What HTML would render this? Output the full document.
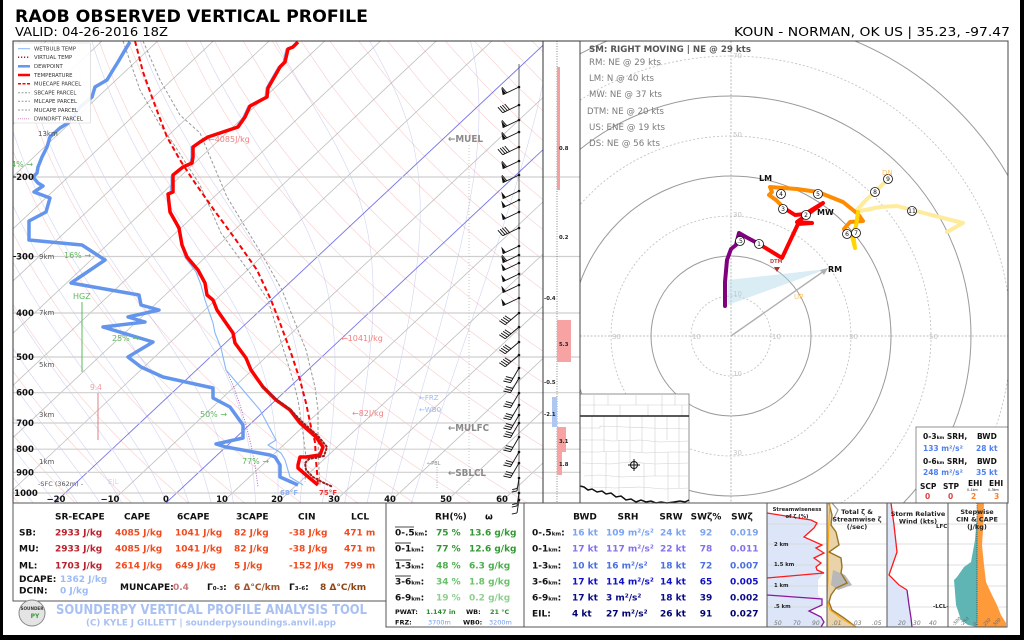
<!DOCTYPE html>
<html><head><meta charset="utf-8"><style>
html,body{margin:0;padding:0;background:#fff;}
svg{display:block;font-family:"DejaVu Sans","Liberation Sans",sans-serif;}
.b{font-weight:bold;}
</style></head><body>
<svg id="s" xmlns="http://www.w3.org/2000/svg" width="1024" height="640" viewBox="0 0 1024 640">
<defs>
<clipPath id="skc"><rect x="13" y="41" width="530" height="462"/></clipPath>
<clipPath id="hoc"><rect x="580" y="41" width="428" height="462"/></clipPath>
</defs>
<rect x="0" y="0" width="1024" height="640" fill="#fff"/>

<!-- header -->
<text x="15" y="22" class="b" font-size="17" fill="#000" textLength="353" lengthAdjust="spacingAndGlyphs">RAOB OBSERVED VERTICAL PROFILE</text>
<text x="15" y="36" font-size="12.5" fill="#000" textLength="153" lengthAdjust="spacingAndGlyphs">VALID: 04-26-2016 18Z</text>
<text x="734" y="36" font-size="12.5" fill="#000" textLength="276" lengthAdjust="spacingAndGlyphs">KOUN - NORMAN, OK US | 35.23, -97.47</text>

<!-- ================= SKEW-T ================= -->
<g clip-path="url(#skc)">
<g id="bgl"></g>
</g>
<!-- isobars -->
<g stroke="#cfcfcf" stroke-width="1.2">
<line x1="13" y1="177" x2="580" y2="177"/>
<line x1="13" y1="256.5" x2="580" y2="256.5"/>
<line x1="13" y1="313" x2="580" y2="313"/>
<line x1="13" y1="357" x2="580" y2="357"/>
<line x1="13" y1="392.7" x2="580" y2="392.7"/>
<line x1="13" y1="423" x2="580" y2="423"/>
<line x1="13" y1="449.2" x2="580" y2="449.2"/>
<line x1="13" y1="472.3" x2="580" y2="472.3"/>
<line x1="13" y1="493" x2="580" y2="493"/>
</g>
<!-- dotted marker lines -->
<line x1="469" y1="145" x2="469" y2="485" stroke="#bbb" stroke-width="0.8" stroke-dasharray="1,2"/>
<line x1="437" y1="467" x2="437" y2="488" stroke="#999" stroke-width="0.8" stroke-dasharray="1,1.5"/>

<g clip-path="url(#skc)" fill="none" stroke-linejoin="round">
<!-- parcels -->
<polyline points="123,41 140,90 160,125 173,143 200,185 221,233 250,273 268,300 293,380 298,400 303,433 306,457 306,470 305,482" stroke="#9a9a9a" stroke-width="1" stroke-dasharray="3,2"/>
<polyline points="143,41 160,80 180,115 200,133 227,197 261,253 282,290 286,300 306,350 315,387 318,410 318,440 319,470 320,485" stroke="#9a9a9a" stroke-width="1" stroke-dasharray="3,2"/>
<polyline points="135,41 143,72 153,100 167,137 180,160 193,180 214,210 236,240 257,270 271,300 280,323 290,350 300,380 306,403 311,427 315,442 316,460 317,472 318,485" stroke="#ff0000" stroke-width="2" stroke-dasharray="5,3"/>
<!-- dcape -->
<polyline points="226,370 233,385 240,405 246,425 251,445 255,465 258,487" stroke="#b060c0" stroke-width="1" stroke-dasharray="1,1.5"/>
<!-- wetbulb -->
<polyline points="296,42 291,47 286,49 283,62 278,67 266,88 265,97 248,106 243,117 236,127 218,133 206,137 198,142 191,147 191,157 190,163 181,168 171,176 171,185 169,200 172,215 179,232 181,245 185,257 196,272 201,285 205,300 213,323 215,333 221,348 226,370 243,390 260,410 276,440 268,445 281,453 285,460 290,477 303,485" stroke="#86b6fa" stroke-width="1.1"/>
<!-- dewpoint -->
<polyline points="130,42 125,50 118,62 113,70 107,80 95,87 92,97 80,107 73,117 68,123 60,128 50,137 47,147 42,157 38,167 37,173 33,177 38,183 43,186 34,192 50,198 46,212 29,221 29,240 82,245 105,260 71,283 139,295 141,305 159,310 128,317 145,322 103,327 153,342 128,357 141,367 163,377 213,388 213,398 230,407 243,425 243,438 216,444 226,447 270,455 275,457 280,465 280,477 298,485" stroke="#6495ed" stroke-width="3.5"/>
<!-- temperature -->
<polyline points="298,42 293,47 288,49 285,62 280,67 268,88 267,97 250,106 245,117 238,127 220,133 208,137 200,142 193,147 193,157 192,163 183,167 173,175 173,192 168,194 170,212 179,228 182,245 187,257 198,270 205,283 207,295 213,300 217,310 226,323 233,333 235,343 246,358 251,370 263,387 276,400 290,410 300,423 316,437 323,447 320,455 306,457 300,457 298,465 298,468 306,475 318,485" stroke="#ff0000" stroke-width="3.5"/>
<!-- virtual temp -->
<polyline points="262,386 276,399 290,409 301,421 318,436 327,447 324,456 309,459 305,463 306,470 313,477 322,482 333,487" stroke="#9b2020" stroke-width="2" stroke-dasharray="1.5,2.3" stroke-linecap="round"/>
</g>

<!-- barb column -->
<line x1="519" y1="64" x2="519" y2="503" stroke="#444" stroke-width="0.8"/>
<g id="barbs"></g>

<!-- skew-T labels -->
<g font-size="7" fill="#555">
<text x="38" y="136">13km</text>
<text x="39" y="259">9km</text>
<text x="39" y="315">7km</text>
<text x="39" y="367">5km</text>
<text x="39" y="417">3km</text>
<text x="39" y="464">1km</text>
<text x="38" y="486" font-size="6.5">-SFC (362m) -</text>
</g>
<g font-size="8" fill="#5cb85c">
<text x="6" y="167">14% →</text>
<text x="64" y="258">16% →</text>
<text x="112" y="341">25% →</text>
<text x="200" y="417">50% →</text>
<text x="242" y="464">77% →</text>
<text x="73" y="299">HGZ</text>
</g>
<rect x="3" y="150" width="10" height="20" fill="#fff"/>
<line x1="82" y1="302" x2="82" y2="372" stroke="#5cb85c" stroke-width="1"/>
<text x="90" y="390" font-size="7.5" fill="#f0a0a0">9.4</text>
<line x1="98" y1="393" x2="98" y2="440" stroke="#e08080" stroke-width="1"/>
<text x="108" y="484" font-size="7" fill="#b8e0f4">E|L</text>
<text x="208" y="142" font-size="8" fill="#f08080">←4085J/kg</text>
<text x="341" y="341" font-size="8" fill="#f08080">←1041J/kg</text>
<text x="352" y="416" font-size="8" fill="#f08080">←82J/kg</text>
<text x="448" y="142" class="b" font-size="9.5" fill="#8a8a8a" textLength="35" lengthAdjust="spacingAndGlyphs">←MUEL</text>
<text x="448" y="431" class="b" font-size="9.5" fill="#8a8a8a" textLength="41" lengthAdjust="spacingAndGlyphs">←MULFC</text>
<text x="448" y="476" class="b" font-size="9.5" fill="#8a8a8a" textLength="38" lengthAdjust="spacingAndGlyphs">←SBLCL</text>
<text x="427" y="465" font-size="5" fill="#888">←PBL</text>
<text x="419" y="400" font-size="7" fill="#9ab8f4">←FRZ</text>
<text x="419" y="412" font-size="7" fill="#9ab8f4">←WB0</text>
<text x="280" y="495" class="b" font-size="7" fill="#8fb0f0">68°F</text>
<text x="319" y="495" class="b" font-size="7" fill="#ff3030">75°F</text>

<!-- pressure labels -->
<g class="b" font-size="8.5" fill="#111" text-anchor="middle">
<text x="25" y="180">200</text>
<text x="25" y="259.5">300</text>
<text x="25" y="316">400</text>
<text x="25" y="360">500</text>
<text x="25" y="395.7">600</text>
<text x="25" y="426">700</text>
<text x="25" y="452.2">800</text>
<text x="25" y="475.3">900</text>
<text x="26" y="496">1000</text>
</g>
<g stroke="#111" stroke-width="1"><line x1="13" y1="177" x2="16" y2="177"/><line x1="13" y1="256.5" x2="16" y2="256.5"/></g>
<!-- temperature labels -->
<g class="b" font-size="8.5" fill="#111" text-anchor="middle">
<text x="56" y="502">−20</text>
<text x="110" y="502">−10</text>
<text x="166" y="502">0</text>
<text x="222" y="502">10</text>
<text x="277" y="502">20</text>
<text x="334" y="502">30</text>
<text x="390" y="502">40</text>
<text x="446" y="502">50</text>
<text x="502" y="502">60</text>
</g>

<!-- legend -->
<rect x="13.5" y="43" width="77" height="80" fill="#fff" fill-opacity="0.9" stroke="#d0d0d0" stroke-width="0.6" rx="1"/>
<g stroke-width="1" fill="none">
<line x1="18" y1="48.7" x2="30" y2="48.7" stroke="#86b6fa"/>
<line x1="18" y1="57.3" x2="30" y2="57.3" stroke="#9b2020" stroke-width="1.5" stroke-dasharray="1.2,1.8"/>
<line x1="18" y1="66.3" x2="30" y2="66.3" stroke="#6495ed" stroke-width="2.5"/>
<line x1="18" y1="75" x2="30" y2="75" stroke="#ff0000" stroke-width="2.5"/>
<line x1="18" y1="83.7" x2="30" y2="83.7" stroke="#ff0000" stroke-width="1.5" stroke-dasharray="3,1.5"/>
<line x1="18" y1="92.7" x2="30" y2="92.7" stroke="#999" stroke-dasharray="2,1.5"/>
<line x1="18" y1="101.3" x2="30" y2="101.3" stroke="#999" stroke-dasharray="2,1.5"/>
<line x1="18" y1="110" x2="30" y2="110" stroke="#999" stroke-dasharray="2,1.5"/>
<line x1="18" y1="118.7" x2="30" y2="118.7" stroke="#d090c0" stroke-dasharray="1,1"/>
</g>
<g font-size="5.3" fill="#333">
<text x="34" y="50.6">WETBULB TEMP</text>
<text x="34" y="59.2">VIRTUAL TEMP</text>
<text x="34" y="68.2">DEWPOINT</text>
<text x="34" y="76.9">TEMPERATURE</text>
<text x="34" y="85.6">MUECAPE PARCEL</text>
<text x="34" y="94.6">SBCAPE PARCEL</text>
<text x="34" y="103.2">MLCAPE PARCEL</text>
<text x="34" y="111.9">MUCAPE PARCEL</text>
<text x="34" y="120.6">DWNDRFT PARCEL</text>
</g>

<!-- skew-T frame -->
<rect x="13" y="41" width="530" height="462" fill="none" stroke="#333" stroke-width="1"/>

<!-- side strip -->
<line x1="557" y1="41" x2="557" y2="503" stroke="#555" stroke-width="0.7" stroke-dasharray="1,1.5"/>
<rect x="557" y="67" width="3" height="123" fill="#f4a0a0"/>
<rect x="557" y="320" width="14" height="42" fill="#f7a3a3"/>
<rect x="552" y="397" width="5" height="30" fill="#aec6f2"/>
<rect x="557" y="427" width="9" height="25" fill="#f7a3a3"/>
<rect x="557" y="452" width="5" height="23" fill="#f7a3a3"/>
<g class="b" font-size="5.3" fill="#222">
<text x="559" y="150">0.8</text>
<text x="559" y="239">0.2</text>
<text x="544" y="300">-0.4</text>
<text x="559" y="346">5.3</text>
<text x="544" y="384">-0.5</text>
<text x="544" y="416">-2.1</text>
<text x="559" y="443">3.1</text>
<text x="559" y="466">1.8</text>
</g>
<rect x="543" y="41" width="37" height="462" fill="none" stroke="#333" stroke-width="1"/>

<!-- ================= HODOGRAPH ================= -->
<g clip-path="url(#hoc)">
<g fill="none">
<circle cx="731" cy="336" r="40" stroke="#bdbdbd" stroke-width="0.8" stroke-dasharray="2,2"/>
<circle cx="731" cy="336" r="120" stroke="#bdbdbd" stroke-width="0.8" stroke-dasharray="2,2"/>
<circle cx="731" cy="336" r="200" stroke="#bdbdbd" stroke-width="0.8" stroke-dasharray="2,2"/>
<circle cx="731" cy="336" r="280" stroke="#bdbdbd" stroke-width="0.8" stroke-dasharray="2,2"/>
<circle cx="731" cy="336" r="80" stroke="#9a9a9a" stroke-width="1"/>
<circle cx="731" cy="336" r="160" stroke="#9a9a9a" stroke-width="1"/>
<circle cx="731" cy="336" r="240" stroke="#9a9a9a" stroke-width="1"/>
<circle cx="731" cy="336" r="320" stroke="#9a9a9a" stroke-width="1"/>
<line x1="580" y1="336" x2="1008" y2="336" stroke="#aaa" stroke-width="0.8" stroke-dasharray="2,1.5"/>
<line x1="731" y1="41" x2="731" y2="503" stroke="#aaa" stroke-width="0.8" stroke-dasharray="2,1.5"/>
</g>
<g font-size="7" fill="#c4c4c4">
<text x="733" y="296">10</text><text x="733" y="217">30</text><text x="733" y="137">50</text><text x="733" y="58">70</text>
<text x="612" y="339">30</text><text x="692" y="339">10</text><text x="772" y="339">10</text><text x="849" y="339">30</text><text x="929" y="339">50</text>
<text x="733" y="376">10</text><text x="733" y="455">30</text>
</g>
<polygon points="728,280 827,269 728,305" fill="#add8e6" fill-opacity="0.45"/>
<line x1="731" y1="336" x2="824" y2="271" stroke="#b0b0b0" stroke-width="1.4"/>
<polygon points="828,268 820,270 824,275" fill="#b0b0b0"/>
<g fill="none" stroke-linejoin="round" stroke-linecap="round" stroke-width="4">
<polyline points="855,212 880,207 897,206 912,210 963,223 947,232" stroke="#ffeb9c"/>
<polyline points="855,212 866,200 875,192 888,179" stroke="#ffeb9c"/>
<polyline points="784,208 776,200 769,195 772,192 770,187 797,189 818,192 843,202 853,210 858,214 863,221 850,222 844,229 847,235" stroke="#ff8c00"/>
<polyline points="858,212 856,226 853,234 855,248 852,236" stroke="#ffd700"/>
<polyline points="759,244 782,258 798,224 812,223 797,222 823,203 805,214 795,215 784,208" stroke="#ff0000"/>
<polyline points="725,306 725,282 727,260 731,249 736,245 739,233 746,237 759,244" stroke="#800080"/>
</g>
<g fill="#fff" stroke="#111" stroke-width="0.8">
<circle cx="740" cy="241" r="4.5"/><circle cx="759" cy="244" r="4.5"/><circle cx="806" cy="215" r="4.5"/>
<circle cx="783" cy="209" r="4.5"/><circle cx="781" cy="194" r="4.5"/><circle cx="818" cy="194" r="4.5"/>
<circle cx="847" cy="234" r="4.5"/><circle cx="856" cy="233" r="4.5"/><circle cx="875" cy="192" r="4.5"/>
<circle cx="888" cy="179" r="4.5"/><circle cx="912" cy="211" r="4.5"/>
</g>
<g font-size="6" fill="#111" text-anchor="middle">
<text x="740" y="243.2">.5</text><text x="759" y="246.2">1</text><text x="806" y="217.2">2</text>
<text x="783" y="211.2">3</text><text x="781" y="196.2">4</text><text x="818" y="196.2">5</text>
<text x="847" y="236.2">6</text><text x="856" y="235.2">7</text><text x="875" y="194.2">8</text>
<text x="888" y="181.2">9</text><text x="912" y="213.2">11</text>
</g>
<text x="759" y="181" class="b" font-size="8" fill="#111">LM</text>
<text x="817" y="215" class="b" font-size="8" fill="#111">MW</text>
<text x="828" y="272" class="b" font-size="8" fill="#111">RM</text>
<text x="770" y="263" class="b" font-size="5" fill="#c04848">DTM</text>
<polygon points="774,267 780,267 777,272" fill="#b03030"/>
<text x="882" y="175" font-size="7" fill="#ffc36e">DN</text>
<text x="794" y="299" font-size="7" fill="#ffc36e">UP</text>
</g>
<text x="589" y="52" class="b" font-size="8.5" fill="#555" textLength="162" lengthAdjust="spacingAndGlyphs">SM: RIGHT MOVING | NE @ 29 kts</text>
<g font-size="8.5" fill="#7a7a7a">
<text x="589" y="65" textLength="72" lengthAdjust="spacingAndGlyphs">RM: NE @ 29 kts</text>
<text x="589" y="81" textLength="65" lengthAdjust="spacingAndGlyphs">LM: N @ 40 kts</text>
<text x="589" y="97" textLength="73" lengthAdjust="spacingAndGlyphs">MW: NE @ 37 kts</text>
<text x="587" y="114" textLength="77" lengthAdjust="spacingAndGlyphs">DTM: NE @ 20 kts</text>
<text x="589" y="130" textLength="76" lengthAdjust="spacingAndGlyphs">US: ENE @ 19 kts</text>
<text x="589" y="146" textLength="71" lengthAdjust="spacingAndGlyphs">DS: NE @ 56 kts</text>
</g>

<!-- inset map -->
<rect x="580" y="394" width="109" height="109" fill="#fff" stroke="#777" stroke-width="0.8"/>
<g stroke="#d0d0d0" stroke-width="0.6" fill="none">
<line x1="580" y1="405" x2="689" y2="405"/>
<line x1="594" y1="394" x2="594" y2="416"/><line x1="608" y1="394" x2="608" y2="405"/><line x1="620" y1="405" x2="620" y2="416"/>
<line x1="636" y1="394" x2="636" y2="405"/><line x1="648" y1="405" x2="648" y2="416"/><line x1="662" y1="394" x2="662" y2="416"/>
<line x1="675" y1="394" x2="675" y2="405"/><line x1="682" y1="405" x2="682" y2="416"/>
<polyline points="580,428 600,428 600,426 625,427 650,428 689,429"/>
<polyline points="580,440 605,440 612,441 640,440 660,442 689,441"/>
<polyline points="580,452 598,452 620,451 646,453 670,452 689,452"/>
<polyline points="582,463 610,464 630,462 655,464 689,463"/>
<polyline points="584,476 600,475 622,477 650,476 689,476"/>
<polyline points="590,487 615,488 640,487 665,489 689,488"/>
<line x1="592" y1="416" x2="592" y2="487"/><line x1="604" y1="416" x2="604" y2="452"/><line x1="606" y1="452" x2="606" y2="490"/>
<line x1="617" y1="416" x2="617" y2="440"/><line x1="619" y1="440" x2="619" y2="495"/><line x1="630" y1="416" x2="630" y2="463"/>
<line x1="642" y1="416" x2="642" y2="452"/><line x1="644" y1="463" x2="644" y2="500"/><line x1="655" y1="416" x2="655" y2="476"/>
<line x1="667" y1="416" x2="667" y2="440"/><line x1="668" y1="452" x2="668" y2="502"/><line x1="679" y1="416" x2="679" y2="488"/>
</g>
<line x1="580" y1="416" x2="689" y2="416" stroke="#222" stroke-width="1.5"/>
<polyline points="580,486 584,487 588,490 592,489 597,492 602,491 606,494 611,493 616,497 621,496 626,500 631,499 636,502 641,500 646,502 651,501 656,503 661,502 667,503 674,502 680,501 685,502 689,500" fill="none" stroke="#111" stroke-width="1.5"/>
<g stroke="#111" stroke-width="1" fill="none"><circle cx="634" cy="465" r="3.5"/><line x1="628" y1="465" x2="640" y2="465"/><line x1="634" y1="459" x2="634" y2="471"/></g>

<!-- SRH box -->
<rect x="916" y="427" width="92" height="76" fill="#fff" stroke="#777" stroke-width="0.8"/>
<g class="b" font-size="7.5">
<text x="923" y="439" fill="#111">0-3<tspan font-size="4.5">km</tspan> SRH,</text><text x="977" y="439" fill="#111">BWD</text>
<text x="923" y="451" fill="#4f7fef">133 m²/s²</text><text x="976" y="451" fill="#4f7fef">28 kt</text>
<text x="923" y="464" fill="#111">0-6<tspan font-size="4.5">km</tspan> SRH,</text><text x="977" y="464" fill="#111">BWD</text>
<text x="923" y="475" fill="#4f7fef">248 m²/s²</text><text x="976" y="475" fill="#4f7fef">35 kt</text>
<text x="920" y="489" fill="#111">SCP</text><text x="943" y="489" fill="#111">STP</text>
<text x="968" y="486" fill="#111">EHI</text><text x="989" y="486" fill="#111">EHI</text>
<text x="925" y="499" fill="#e04040">0</text><text x="948" y="499" fill="#e04040">0</text>
<text x="971" y="499" fill="#ff7f27">2</text><text x="994" y="499" fill="#ff7f27">3</text>
</g>
<text x="967" y="491" font-size="3.2" fill="#111">0–1km</text><text x="988" y="491" font-size="3.2" fill="#111">0–3km</text>
<rect x="580" y="41" width="428" height="462" fill="none" stroke="#444" stroke-width="1"/>

<!-- ================= BOTTOM LEFT TABLE ================= -->
<rect x="13" y="503" width="373" height="98" fill="none" stroke="#555" stroke-width="1"/>
<g class="b" font-size="9">
<text x="55" y="519.5" fill="#111">SR-ECAPE</text><text x="124" y="519.5" fill="#111">CAPE</text><text x="177" y="519.5" fill="#111">6CAPE</text>
<text x="236" y="519.5" fill="#111">3CAPE</text><text x="298" y="519.5" fill="#111">CIN</text><text x="351" y="519.5" fill="#111">LCL</text>
<text x="19" y="535.5" fill="#111">SB:</text><text x="19" y="551.5" fill="#111">MU:</text><text x="19" y="568.5" fill="#111">ML:</text>
<text x="55" y="535.5" fill="#b8202a">2933 J/kg</text><text x="115" y="535.5" fill="#f04a1e">4085 J/kg</text><text x="175" y="535.5" fill="#f04a1e">1041 J/kg</text><text x="234" y="535.5" fill="#f04a1e">82 J/kg</text><text x="289" y="535.5" fill="#f04a1e">-38 J/kg</text><text x="344" y="535.5" fill="#f04a1e">471 m</text>
<text x="55" y="551.5" fill="#b8202a">2933 J/kg</text><text x="115" y="551.5" fill="#f04a1e">4085 J/kg</text><text x="175" y="551.5" fill="#f04a1e">1041 J/kg</text><text x="234" y="551.5" fill="#f04a1e">82 J/kg</text><text x="289" y="551.5" fill="#f04a1e">-38 J/kg</text><text x="344" y="551.5" fill="#f04a1e">471 m</text>
<text x="55" y="568.5" fill="#b8202a">1703 J/kg</text><text x="115" y="568.5" fill="#f04a1e">2614 J/kg</text><text x="175" y="568.5" fill="#f04a1e">649 J/kg</text><text x="234" y="568.5" fill="#f04a1e">5 J/kg</text><text x="289" y="568.5" fill="#f04a1e">-152 J/kg</text><text x="344" y="568.5" fill="#f04a1e">799 m</text>
<text x="19" y="582" fill="#111">DCAPE:</text><text x="60" y="582" fill="#9cbcf5">1362 J/kg</text>
<text x="19" y="593.5" fill="#111">DCIN:</text><text x="60" y="593.5" fill="#9cbcf5">0 J/kg</text>
<text x="120" y="590" fill="#111">MUNCAPE:</text><text x="173" y="590" fill="#c87878">0.4</text>
<text x="207" y="590" fill="#111">Γ<tspan font-size="5.5">0–3</tspan>:</text><text x="234" y="590" fill="#a0522d">6 Δ°C/km</text>
<text x="289" y="590" fill="#111">Γ<tspan font-size="5.5">3–6</tspan>:</text><text x="320" y="590" fill="#8b4513">8 Δ°C/km</text>
</g>
<!-- logo + credit -->
<circle cx="32" cy="613" r="13" fill="#e4e4e4" stroke="#888" stroke-width="1"/>
<text x="32" y="610" font-size="4.2" class="b" fill="#333" text-anchor="middle">SOUNDER</text>
<text x="35" y="618" font-size="6" class="b" fill="#3a9a3a" text-anchor="middle">PY</text>
<text x="56" y="614" class="b" font-size="13" fill="#a9c1f2" textLength="311" lengthAdjust="spacingAndGlyphs">SOUNDERPY VERTICAL PROFILE ANALYSIS TOOL</text>
<text x="86" y="625.5" class="b" font-size="8.5" fill="#a9c1f2" textLength="250" lengthAdjust="spacingAndGlyphs">(C) KYLE J GILLETT | sounderpysoundings.anvil.app</text>

<!-- ================= RH TABLE ================= -->
<rect x="386" y="503" width="138" height="124" fill="none" stroke="#555" stroke-width="1"/>
<g class="b" font-size="9">
<text x="435" y="519.5" fill="#111">RH(%)</text><text x="485" y="519.5" fill="#111">ω</text>
<text x="395" y="535.5" fill="#111">0-.5<tspan font-size="5.5">km</tspan>:</text><text x="436" y="535.5" fill="#339933">75 %</text><text x="469" y="535.5" fill="#339933">13.6 g/kg</text>
<text x="395" y="551.5" fill="#111">0-1<tspan font-size="5.5">km</tspan>:</text><text x="436" y="551.5" fill="#339933">77 %</text><text x="469" y="551.5" fill="#339933">12.6 g/kg</text>
<text x="395" y="568.5" fill="#111">1-3<tspan font-size="5.5">km</tspan>:</text><text x="436" y="568.5" fill="#4cae4c">48 %</text><text x="469" y="568.5" fill="#4cae4c">6.3 g/kg</text>
<text x="395" y="584.5" fill="#111">3-6<tspan font-size="5.5">km</tspan>:</text><text x="436" y="584.5" fill="#6cc06c">34 %</text><text x="469" y="584.5" fill="#6cc06c">1.8 g/kg</text>
<text x="395" y="600.5" fill="#111">6-9<tspan font-size="5.5">km</tspan>:</text><text x="436" y="600.5" fill="#8fd08f">19 %</text><text x="469" y="600.5" fill="#8fd08f">0.2 g/kg</text>
</g>
<g stroke="#111" stroke-width="0.8">
<line x1="395" y1="527" x2="414" y2="527"/><line x1="395" y1="543" x2="411" y2="543"/>
<line x1="395" y1="560" x2="411" y2="560"/><line x1="395" y1="576" x2="411" y2="576"/>
</g>
<g class="b" font-size="6.5">
<text x="395" y="614" fill="#111">PWAT:</text><text x="426" y="614" fill="#2e8b2e">1.147 in</text>
<text x="466" y="614" fill="#111">WB:</text><text x="490" y="614" fill="#2e8b2e">21 °C</text>
<text x="395" y="624.5" fill="#111">FRZ:</text><text x="428" y="624.5" fill="#6d9cf0" font-weight="normal">3700m</text>
<text x="463" y="624.5" fill="#111">WB0:</text><text x="489" y="624.5" fill="#6d9cf0" font-weight="normal">3200m</text>
</g>

<!-- ================= KINEMATICS TABLE ================= -->
<rect x="524" y="503" width="243" height="124" fill="none" stroke="#555" stroke-width="1"/>
<g class="b" font-size="9">
<g fill="#111" text-anchor="middle">
<text x="585" y="519.5">BWD</text><text x="628" y="519.5">SRH</text><text x="671" y="519.5">SRW</text><text x="706" y="519.5">SWζ%</text><text x="742" y="519.5">SWζ</text>
</g>
<g fill="#111">
<text x="532" y="535.5">0-.5<tspan font-size="5.5">km</tspan>:</text><text x="532" y="551.5">0-1<tspan font-size="5.5">km</tspan>:</text>
<text x="532" y="568.5">1-3<tspan font-size="5.5">km</tspan>:</text><text x="532" y="584.5">3-6<tspan font-size="5.5">km</tspan>:</text>
<text x="532" y="600.5">6-9<tspan font-size="5.5">km</tspan>:</text><text x="532" y="616.5">EIL:</text>
</g>
<g fill="#7aa3f2"><text x="572" y="535.5">16 kt</text><text x="606" y="535.5">109 m²/s²</text><text x="660" y="535.5">24 kt</text><text x="706" y="535.5" text-anchor="middle">92</text><text x="730" y="535.5">0.019</text></g>
<g fill="#8470ee"><text x="572" y="551.5">17 kt</text><text x="606" y="551.5">117 m²/s²</text><text x="660" y="551.5">22 kt</text><text x="706" y="551.5" text-anchor="middle">78</text><text x="730" y="551.5">0.011</text></g>
<g fill="#4a6fe3"><text x="572" y="568.5">10 kt</text><text x="606" y="568.5">16 m²/s²</text><text x="660" y="568.5">18 kt</text><text x="706" y="568.5" text-anchor="middle">72</text><text x="730" y="568.5">0.007</text></g>
<g fill="#1010c8"><text x="572" y="584.5">17 kt</text><text x="606" y="584.5">114 m²/s²</text><text x="660" y="584.5">14 kt</text><text x="706" y="584.5" text-anchor="middle">65</text><text x="730" y="584.5">0.005</text></g>
<g fill="#0a0a8a"><text x="572" y="600.5">17 kt</text><text x="606" y="600.5">3 m²/s²</text><text x="660" y="600.5">18 kt</text><text x="706" y="600.5" text-anchor="middle">39</text><text x="730" y="600.5">0.002</text></g>
<g fill="#00006e"><text x="572" y="616.5">4 kt</text><text x="606" y="616.5">27 m²/s²</text><text x="660" y="616.5">26 kt</text><text x="706" y="616.5" text-anchor="middle">91</text><text x="730" y="616.5">0.027</text></g>
</g>

<!-- ================= SMALL PANELS ================= -->
<!-- panel 1 -->
<polygon points="767,513 811,520 817,523 814,528 804,537 822,545 816,548 824,553 814,558 821,563 816,567 817,570 824,573 818,580 818,595 822,599 822,605 809,611 821,617 824,622 821,627 767,627" fill="#dce6f8"/>
<g stroke="#d4d4d4" stroke-width="0.8">
<line x1="767" y1="524" x2="1007" y2="524"/><line x1="767" y1="544" x2="1007" y2="544"/><line x1="767" y1="565" x2="1007" y2="565"/>
<line x1="767" y1="586" x2="1007" y2="586"/><line x1="767" y1="607" x2="1007" y2="607"/>
</g>
<polyline points="767,513 811,520 817,523 814,528 804,537 822,545 816,548 824,553 814,558 821,563 816,567 817,570 824,573 767,578" fill="none" stroke="#ff1a1a" stroke-width="1.3"/>
<polyline points="767,595 822,599 822,605 809,611 821,617 824,622 821,627" fill="none" stroke="#8a1a9a" stroke-width="1.3"/>
<g class="b" font-size="5.3" fill="#222">
<text x="797" y="511" text-anchor="middle">Streamwiseness</text><text x="797" y="518" text-anchor="middle">of ζ (%)</text>
<text x="774" y="546">2 km</text><text x="774" y="566">1.5 km</text><text x="774" y="587">1 km</text><text x="774" y="608">.5 km</text>
</g>
<g font-size="6" font-style="italic" fill="#777"><text x="774" y="625">50</text><text x="793" y="625">70</text><text x="812" y="625">90</text></g>
<!-- panel 2 -->
<polygon points="827,503 829,503 832,515 831,525 836,532 839,545 829,552 841,558 842,567 841,573 847,583 836,588 831,595 829,602 832,610 844,618 856,627 827,627" fill="#ead3a8"/>
<polygon points="833,570 845,575 852,585 838,590 831,585" fill="#b8b8b8"/>
<polyline points="829,503 832,515 831,525 836,532 839,545 829,552 841,558 842,567 841,573 847,583 836,588 831,595 829,602 832,610 844,618 856,627" fill="none" stroke="#9a7420" stroke-width="1.4"/>
<polyline points="832,503 838,510 833,520" fill="none" stroke="#999" stroke-width="1.2"/>
<polyline points="830,503 829,520 828,550 828,580 827,600 830,610 842,619 856,627" fill="none" stroke="#ffa500" stroke-width="1"/>
<g class="b" font-size="6.5" fill="#222" text-anchor="middle">
<text x="857" y="514">Total ζ &amp;</text><text x="857" y="521.5">Streamwise ζ</text><text x="857" y="529">(/sec)</text>
</g>
<g font-size="6" font-style="italic" fill="#777"><text x="832" y="625">.01</text><text x="852" y="625">.03</text><text x="872" y="625">.05</text></g>
<!-- panel 3 -->
<polygon points="887,503 891,503 894,525 897,552 889,575 899,585 907,590 909,605 911,618 912,627 887,627" fill="#dce6f8"/>
<polyline points="891,503 894,525 897,552 889,575 899,585 907,590" fill="none" stroke="#ff1a1a" stroke-width="1.3"/>
<polyline points="907,590 909,605 911,618 912,627" fill="none" stroke="#8a1a9a" stroke-width="1.3"/>
<g class="b" font-size="6.5" fill="#222" text-anchor="middle">
<text x="918" y="516">Storm Relative</text><text x="918" y="523.5">Wind (kts)</text>
</g>
<text x="936" y="528" font-size="5.5" class="b" fill="#222">LFC</text>
<text x="933" y="608" font-size="5.5" class="b" fill="#222">-LCL-</text>
<g font-size="6" font-style="italic" fill="#777"><text x="898" y="625">20</text><text x="913" y="625">30</text><text x="929" y="625">40</text></g>
<!-- panel 4 -->
<polygon points="977,503 984,503 983,530 982,545 984,565 986,582 992,595 997,605 1001,615 1006,623 1006,627 977,627" fill="#ff9a3a"/>
<polygon points="977,515 975,540 971,562 964,567 957,577 954,580 955,592 956,605 961,620 968,625 977,627" fill="#5fb5b3"/>
<line x1="977" y1="503" x2="977" y2="627" stroke="#222" stroke-width="0.7" stroke-dasharray="1,1.2"/>
<g class="b" font-size="6.5" fill="#222" text-anchor="middle">
<text x="977" y="514">Stepwise</text><text x="977" y="521.5">CIN &amp; CAPE</text><text x="977" y="529">(J/kg)</text>
</g>
<g font-size="4.5" font-style="italic" fill="#666">
<text transform="translate(954,626) rotate(-45)">-500</text><text transform="translate(962,626) rotate(-45)">-250</text>
<text transform="translate(975,626) rotate(-45)">0</text><text transform="translate(985,626) rotate(-45)">250</text><text transform="translate(995,626) rotate(-45)">500</text>
</g>
<g fill="none" stroke="#555" stroke-width="1">
<rect x="767" y="503" width="60" height="124"/><rect x="827" y="503" width="60" height="124"/>
<rect x="887" y="503" width="61" height="124"/><rect x="948" y="503" width="59" height="124"/>
</g>

<!-- frame -->
<rect x="0" y="0" width="3" height="640" fill="#000"/>
<rect x="1020" y="0" width="4" height="640" fill="#000"/>
<rect x="0" y="635" width="1024" height="5" fill="#000"/>
</svg>
<script>
(function(){
var NS='http://www.w3.org/2000/svg';
var g=document.getElementById('bgl');
var SK=1.067;
function Y(p){return 493-196.4*Math.log(1000/p);}
function X(T,p){return 166+5.57*T+SK*(503-Y(p));}
function path(par,pts,stroke,w,op,dash){var e=document.createElementNS(NS,'path');
 e.setAttribute('d','M'+pts.map(function(q){return q[0].toFixed(1)+','+q[1].toFixed(1);}).join('L'));
 e.setAttribute('fill','none');e.setAttribute('stroke',stroke);e.setAttribute('stroke-width',w);
 if(op)e.setAttribute('stroke-opacity',op);if(dash)e.setAttribute('stroke-dasharray',dash);par.appendChild(e);}
var T,p,th;
for(th=-40;th<=220;th+=10){var pts=[];for(p=1050;p>=100;p-=25){T=(th+273.15)*Math.pow(p/1000,0.2857)-273.15;pts.push([X(T,p),Y(p)]);}path(g,pts,'#f08080',0.6,0.4);}
for(var T0=-24;T0<=44;T0+=4){var Tk=T0+273.15;var pts2=[];for(p=1050;p>=100;p-=5){pts2.push([X(Tk-273.15,p),Y(p)]);var es=6.112*Math.exp(17.67*(Tk-273.15)/(Tk-29.65));var rs=0.622*es/(p-es);var d=(287*Tk+2.5e6*rs)/(p*(1004+2.5e6*2.5e6*rs*0.622/(287*Tk*Tk)));Tk-=d*5;}path(g,pts2,'#8080e0',0.6,0.35);}
for(T=-160;T<=60;T+=10){var hl=(T==0||T==-20);path(g,[[X(T,1050),Y(1050)],[X(T,100),Y(100)]],hl?'#5a5ae6':'#b4b4b4',hl?0.9:0.8,0.85);}
// barbs
var bg=document.getElementById('barbs');
var dirs={u:[-0.905,0.426,18],m:[-0.76,0.65,18],l:[-0.5,0.866,17],s:[-0.15,0.99,13]};
var barbs=[[87,'u',1,1],[105,'u',0,4],[120,'u',1,1],[132,'u',1,1],[147,'u',0,4],[161,'u',1,1],[175,'u',1,1],[191,'u',1,0],[200,'u',1,0],[212,'u',1,0],[228,'u',0,4],[246,'u',1,0],[255,'u',1,1],[263,'u',1,0],[274,'u',1,0],[285,'u',1,0],[298,'u',1,0],[313,'m',0,4],[327,'m',0,4],[342,'m',0,4],[355,'m',0,4],[368,'l',0,3],[378,'l',0,3],[393,'l',0,3],[405,'l',0,3],[415,'l',0,3],[423,'l',0,3],[437,'l',0,3],[452,'l',0,3],[463,'l',0,3],[478,'s',0,2],[493,'s',0,2],[500,'s',0,1]];
barbs.forEach(function(b){var y=b[0],dd=dirs[b[1]],np=b[2],nf=b[3];var dx=dd[0],dy=dd[1],L=dd[2];
 var ax=519,ay=y,ex=ax+dx*L,ey=ay+dy*L,px=-dy,py=dx;
 var s='M'+ax+','+ay+'L'+ex.toFixed(1)+','+ey.toFixed(1);var f='';var pos=0;var fl=(b[1]=='s')?5:7;
 for(var i=0;i<np;i++){var bx=ex-dx*pos,by=ey-dy*pos,cx=bx-dx*3.5,cy=by-dy*3.5;
  f+='M'+bx.toFixed(1)+','+by.toFixed(1)+'L'+(bx+px*fl-dx*1.75).toFixed(1)+','+(by+py*fl-dy*1.75).toFixed(1)+'L'+cx.toFixed(1)+','+cy.toFixed(1)+'Z';pos+=4.5;}
 for(var j=0;j<nf;j++){var bx2=ex-dx*pos,by2=ey-dy*pos;s+='M'+bx2.toFixed(1)+','+by2.toFixed(1)+'L'+(bx2+px*fl+dx*2).toFixed(1)+','+(by2+py*fl+dy*2).toFixed(1);pos+=2.5;}
 var e=document.createElementNS(NS,'path');e.setAttribute('d',s);e.setAttribute('stroke','#111');e.setAttribute('stroke-width','0.9');e.setAttribute('fill','none');bg.appendChild(e);
 if(f){var e2=document.createElementNS(NS,'path');e2.setAttribute('d',f);e2.setAttribute('fill','#111');bg.appendChild(e2);}
 var c=document.createElementNS(NS,'circle');c.setAttribute('cx',ax);c.setAttribute('cy',ay);c.setAttribute('r','1.3');c.setAttribute('fill','#111');bg.appendChild(c);
});
})();
</script>
</body></html>
